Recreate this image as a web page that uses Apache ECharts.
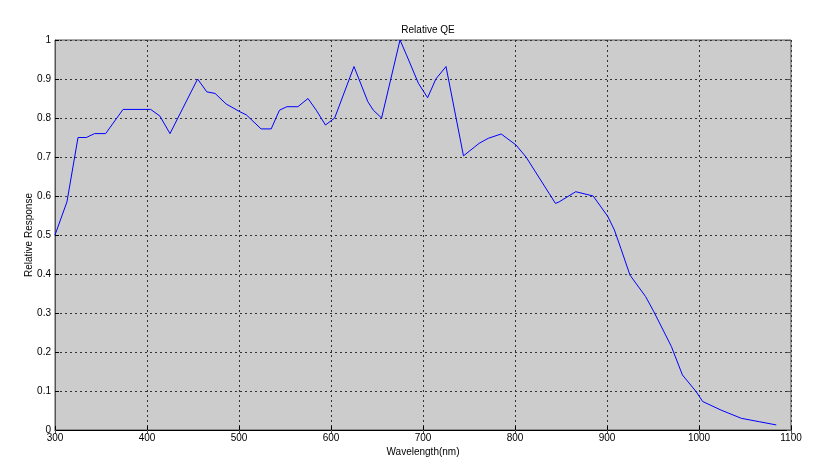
<!DOCTYPE html>
<html>
<head>
<meta charset="utf-8">
<script src="https://cdn.jsdelivr.net/npm/echarts@6/dist/echarts.min.js"></script>
<style>html,body{margin:0;padding:0;background:#fff}#c{width:832px;height:466px}</style>
</head>
<body>
<div id="c"></div>
<script>
const wavelength = [300, 313, 325, 334, 343, 355, 374, 404, 414, 425, 455, 465, 474, 486, 501, 508, 524, 535, 544, 552, 564, 575, 584, 594, 604, 625, 640, 646, 655, 675, 682, 695, 705, 714, 725, 744, 761, 771, 785, 801, 812, 837, 844, 848, 866, 885, 901, 908, 915, 925, 942, 951, 970, 982, 997, 1004, 1024, 1046, 1066, 1084];
const response = [0.50, 0.585, 0.75, 0.75, 0.76, 0.76, 0.822, 0.822, 0.805, 0.76, 0.90, 0.867, 0.863, 0.836, 0.816, 0.808, 0.772, 0.772, 0.82, 0.829, 0.829, 0.85, 0.82, 0.782, 0.80, 0.932, 0.842, 0.82, 0.80, 1.0, 0.962, 0.889, 0.852, 0.90, 0.932, 0.703, 0.735, 0.748, 0.759, 0.731, 0.70, 0.607, 0.581, 0.585, 0.611, 0.60, 0.547, 0.513, 0.466, 0.397, 0.342, 0.303, 0.214, 0.141, 0.098, 0.073, 0.051, 0.03, 0.021, 0.013];
const xTicks = [300, 400, 500, 600, 700, 800, 900, 1000, 1100];
const yTicks = [0, 0.1, 0.2, 0.3, 0.4, 0.5, 0.6, 0.7, 0.8, 0.9, 1];

const chart = echarts.init(document.getElementById('c'), null, {renderer: 'canvas'});
const font = 'Liberation Sans, Arial, sans-serif';
const hidden = {show: false};
chart.setOption({
  animation: false,
  backgroundColor: '#ffffff',
  title: {
    text: 'Relative QE', left: 423, top: 20, textAlign: 'center',
    textStyle: {fontFamily: font, fontSize: 10, fontWeight: 'normal', color: '#000'}
  },
  grid: {left: 55, right: 41, top: 40, bottom: 36, show: true, backgroundColor: '#cccccc', borderColor: '#555', borderWidth: 1},
  xAxis: [{
    type: 'value', min: xTicks[0], max: xTicks[xTicks.length - 1], interval: 100,
    name: 'Wavelength(nm)', nameLocation: 'middle', nameGap: 17, nameMoveOverlap: false,
    nameTextStyle: {fontFamily: font, fontSize: 10, color: '#000'},
    axisLine: {show: true, lineStyle: {color: '#000', width: 1}},
    axisTick: {show: true, inside: true, length: 4, lineStyle: {color: '#000'}},
    axisLabel: {fontFamily: font, fontSize: 10, color: '#000', margin: 3, formatter: v => String(v)},
    splitLine: {show: true, lineStyle: {color: '#333', type: [2, 3], width: 1}}
  }, {
    type: 'value', position: 'top', min: xTicks[0], max: xTicks[xTicks.length - 1], interval: 100,
    axisLine: hidden, axisLabel: hidden, splitLine: hidden,
    axisTick: {show: true, inside: true, length: 4, lineStyle: {color: '#555'}}
  }],
  yAxis: [{
    type: 'value', min: yTicks[0], max: yTicks[yTicks.length - 1], interval: 0.1,
    name: 'Relative Response', nameLocation: 'middle', nameGap: 21, nameRotate: 90, nameMoveOverlap: false,
    nameTextStyle: {fontFamily: font, fontSize: 10, color: '#000'},
    axisLine: {show: true, lineStyle: {color: '#555', width: 1}},
    axisTick: {show: true, inside: true, length: 4, lineStyle: {color: '#000'}},
    axisLabel: {fontFamily: font, fontSize: 10, color: '#000', margin: 4,
      formatter: v => String(Math.round(v * 10) / 10)},
    splitLine: {show: true, lineStyle: {color: '#333', type: [2, 3], width: 1}}
  }, {
    type: 'value', position: 'right', min: yTicks[0], max: yTicks[yTicks.length - 1], interval: 0.1,
    axisLine: hidden, axisLabel: hidden, splitLine: hidden,
    axisTick: {show: true, inside: true, length: 4, lineStyle: {color: '#555'}}
  }],
  series: [{
    type: 'line', xAxisIndex: 0, yAxisIndex: 0,
    data: wavelength.map((w, i) => [w, response[i]]),
    showSymbol: false, smooth: false,
    lineStyle: {color: '#0000ff', width: 1}
  }]
});
</script>
</body>
</html>
